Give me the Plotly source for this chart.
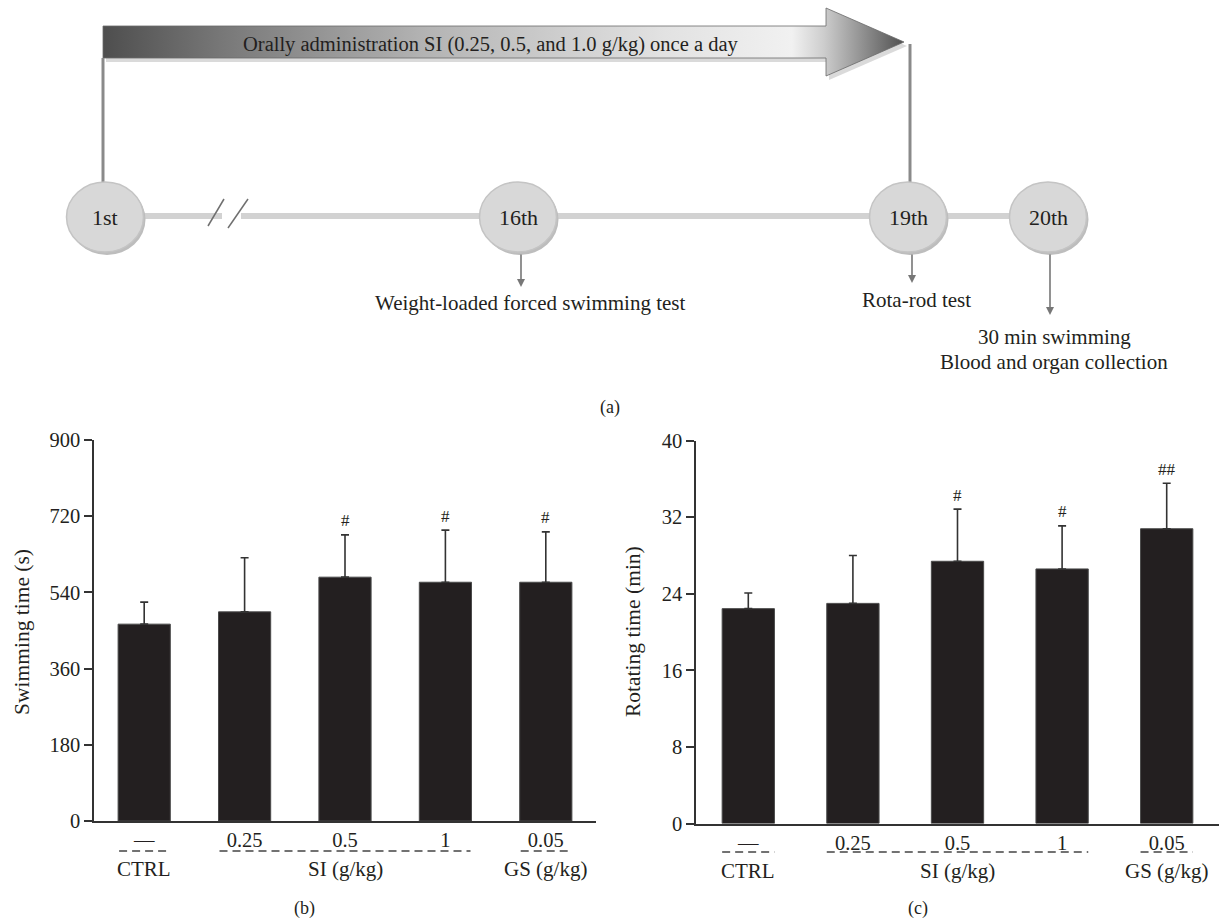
import numpy as np
import plotly.graph_objects as go

# ---------------- data ----------------
dose_labels = ["\u2014", "0.25", "0.5", "1", "0.05"]
group_names = ["CTRL", "SI (g/kg)", "GS (g/kg)"]
group_first = [0, 1, 4]
group_last = [0, 3, 4]

swim_mean = [465, 494, 576, 564, 564]
swim_err = [52, 128, 100, 123, 119]
swim_sig = ["", "", "#", "#", "#"]
swim_ticks = [0, 180, 360, 540, 720, 900]

rot_mean = [22.45, 23.0, 27.4, 26.6, 30.8]
rot_err = [1.64, 5.0, 5.45, 4.5, 4.75]
rot_sig = ["", "", "#", "#", "##"]
rot_ticks = [0, 8, 16, 24, 32, 40]

timeline_days = ["1st", "16th", "19th", "20th"]
treatment_text = "Orally administration SI (0.25, 0.5, and 1.0 g/kg) once a day"
day_notes = {"16th": ["Weight-loaded forced swimming test"],
             "19th": ["Rota-rod test"],
             "20th": ["30 min swimming", "Blood and organ collection"]}

# ---------------- layout constants ----------------
W, H = 1221, 923
FONT = "Liberation Serif"
INK = "#231f20"
BAR = "#231f20"

def px_x(p):
    return p / W

def px_y(p):
    return 1 - p / H

fig = go.Figure()

xs = list(range(len(dose_labels)))

# chart (b)
fig.add_trace(go.Bar(
    x=xs, y=swim_mean, width=0.52, marker=dict(color=BAR, line=dict(color="#4a4a4a", width=1)),
    error_y=dict(type="data", array=swim_err, arrayminus=[0] * 5, symmetric=False,
                 color="#333333", thickness=1.6, width=4),
    xaxis="x", yaxis="y", showlegend=False, hoverinfo="skip"))

# chart (c)
fig.add_trace(go.Bar(
    x=xs, y=rot_mean, width=0.5, marker=dict(color=BAR, line=dict(color="#4a4a4a", width=1)),
    error_y=dict(type="data", array=rot_err, arrayminus=[0] * 5, symmetric=False,
                 color="#333333", thickness=1.6, width=4),
    xaxis="x2", yaxis="y2", showlegend=False, hoverinfo="skip"))

# ---------------- timeline diagram (pixel axes x3/y3) ----------------
arrow_x = [103, 826, 826, 904, 826, 826, 103, 103]
arrow_y = [26, 26, 8, 42, 76, 58, 58, 26]
# shadow
fig.add_trace(go.Scatter(
    x=[a + 3 for a in arrow_x], y=[b + 4 for b in arrow_y], fill="toself",
    fillcolor="rgba(150,150,150,0.35)", line=dict(width=0), mode="lines",
    xaxis="x3", yaxis="y3", showlegend=False, hoverinfo="skip"))
fig.add_trace(go.Scatter(
    x=arrow_x, y=arrow_y, fill="toself", mode="lines",
    line=dict(width=0.8, color="#6a6a6a"),
    fillgradient=dict(type="horizontal", colorscale=[
        [0.0, "#4e4e4e"], [0.15, "#787878"], [0.4, "#b3b3b3"], [0.7, "#e2e2e2"],
        [0.86, "#f1f1f1"], [0.9, "#cdcdcd"], [1.0, "#505050"]]),
    xaxis="x3", yaxis="y3", showlegend=False, hoverinfo="skip"))

shapes = []
annotations = []

day_cx = {"1st": 105, "16th": 518, "19th": 908, "20th": 1048}
CY = 217
RX, RY = 38.5, 35

# timeline bar
shapes.append(dict(type="line", xref="x3", yref="y3", x0=day_cx["1st"], x1=day_cx["20th"],
                   y0=CY - 1, y1=CY - 1, line=dict(color="#d2d2d2", width=6), layer="above"))
# break gap
shapes.append(dict(type="rect", xref="x3", yref="y3", x0=222, x1=241, y0=CY - 6, y1=CY + 5,
                   fillcolor="white", line=dict(width=0)))
shapes.append(dict(type="line", xref="x3", yref="y3", x0=208, y0=226, x1=224, y1=199,
                   line=dict(color="#6f6f6f", width=1.5)))
shapes.append(dict(type="line", xref="x3", yref="y3", x0=228, y0=228, x1=248, y1=199,
                   line=dict(color="#6f6f6f", width=1.5)))

# vertical connectors from the treatment arrow
shapes.append(dict(type="line", xref="x3", yref="y3", x0=103, x1=103, y0=58, y1=184,
                   line=dict(color="#8a8a8a", width=3)))
shapes.append(dict(type="line", xref="x3", yref="y3", x0=910, x1=910, y0=44, y1=184,
                   line=dict(color="#8a8a8a", width=3)))

for d in timeline_days:
    cx = day_cx[d]
    shapes.append(dict(type="circle", xref="x3", yref="y3", x0=cx - RX + 2, x1=cx + RX + 2,
                       y0=CY - RY + 2, y1=CY + RY + 3, fillcolor="#bdbdbd", line=dict(width=0)))
    shapes.append(dict(type="circle", xref="x3", yref="y3", x0=cx - RX, x1=cx + RX,
                       y0=CY - RY, y1=CY + RY, fillcolor="#d8d8d8",
                       line=dict(color="#c4c4c4", width=1.5)))
    annotations.append(dict(xref="x3", yref="y3", x=cx, y=CY, text=d, showarrow=False,
                            xanchor="center", yanchor="middle",
                            font=dict(family=FONT, size=22, color=INK)))

arrow_spec = {"16th": (521, 287, [303]), "19th": (912, 283, [300]),
              "20th": (1050, 315, [337, 362])}
note_x = {"16th": 530, "19th": 916, "20th": 1054}
for d, (ax_, tip, ys) in arrow_spec.items():
    annotations.append(dict(xref="x3", yref="y3", axref="x3", ayref="y3", x=ax_, y=tip,
                            ax=ax_, ay=253, text="", showarrow=True, arrowhead=2,
                            arrowsize=1, arrowwidth=1.6, arrowcolor="#777777"))
    for line_txt, yy in zip(day_notes[d], ys):
        annotations.append(dict(xref="x3", yref="y3", x=note_x[d], y=yy, text=line_txt,
                                showarrow=False, xanchor="center", yanchor="middle",
                                font=dict(family=FONT, size=21, color=INK)))

annotations.append(dict(xref="x3", yref="y3", x=490, y=44, text=treatment_text, showarrow=False,
                        xanchor="center", yanchor="middle",
                        font=dict(family=FONT, size=20.5, color=INK)))

# panel letters
for txt, x, y in [("(a)", 610, 407), ("(b)", 304, 908), ("(c)", 918, 908)]:
    annotations.append(dict(xref="x3", yref="y3", x=x, y=y, text=txt, showarrow=False,
                            xanchor="center", yanchor="middle",
                            font=dict(family=FONT, size=18, color=INK)))

# y-axis titles
annotations.append(dict(xref="paper", yref="paper", x=px_x(22), y=px_y(632), text="Swimming time (s)",
                        textangle=-90, showarrow=False, xanchor="center", yanchor="middle",
                        font=dict(family=FONT, size=21.5, color=INK)))
annotations.append(dict(xref="paper", yref="paper", x=px_x(633), y=px_y(632), text="Rotating time (min)",
                        textangle=-90, showarrow=False, xanchor="center", yanchor="middle",
                        font=dict(family=FONT, size=21.5, color=INK)))

# significance marks
for xr, yr, means, errs, sig in [("x", "y", swim_mean, swim_err, swim_sig),
                                 ("x2", "y2", rot_mean, rot_err, rot_sig)]:
    for i, s in enumerate(sig):
        if s:
            annotations.append(dict(xref=xr, yref=yr, x=i, y=means[i] + errs[i], text=s,
                                    showarrow=False, yshift=14, xanchor="center", yanchor="middle",
                                    font=dict(family=FONT, size=17, color=INK)))

# group dashed lines and labels
for xr, dash_y, lab_y in [("x", 851, 869), ("x2", 852, 871)]:
    for name, a, b in zip(group_names, group_first, group_last):
        shapes.append(dict(type="line", xref=xr, yref="paper", x0=a - 0.25, x1=b + 0.25,
                           y0=px_y(dash_y), y1=px_y(dash_y),
                           line=dict(color="#444444", width=1.5, dash="8px,5px")))
        annotations.append(dict(xref=xr, yref="paper", x=(a + b) / 2, y=px_y(lab_y), text=name,
                                showarrow=False, xanchor="center", yanchor="middle",
                                font=dict(family=FONT, size=21, color=INK)))

axis_common = dict(showgrid=False, zeroline=False, showline=True, linecolor="#333333",
                   linewidth=1.5, automargin=False, tickfont=dict(family=FONT, size=20.5, color=INK))

fig.update_layout(
    width=W, height=H, autosize=False, margin=dict(l=0, r=0, t=0, b=0, pad=0, autoexpand=False),
    paper_bgcolor="white", plot_bgcolor="rgba(0,0,0,0)",
    xaxis=dict(domain=[px_x(94), px_x(596)], range=[-0.5, 4.5], tickvals=xs, ticktext=dose_labels,
               ticks="", anchor="y", **axis_common),
    yaxis=dict(domain=[px_y(821), px_y(440)], range=[0, 900], tickvals=swim_ticks, ticks="outside",
               ticklen=8, tickwidth=1.5, tickcolor="#333333", anchor="x", **axis_common),
    xaxis2=dict(domain=[px_x(696), px_x(1219)], range=[-0.5, 4.5], tickvals=xs, ticktext=dose_labels,
                ticks="", anchor="y2", **axis_common),
    yaxis2=dict(domain=[px_y(823.5), px_y(440.7)], range=[0, 40], tickvals=rot_ticks, ticks="outside",
                ticklen=8, tickwidth=1.5, tickcolor="#333333", anchor="x2", **axis_common),
    xaxis3=dict(domain=[0, 1], range=[0, W], visible=False, anchor="y3", fixedrange=True),
    yaxis3=dict(domain=[0, 1], range=[H, 0], visible=False, anchor="x3", fixedrange=True),
    shapes=shapes, annotations=annotations, bargap=0.4,
)

fig.write_html("out.html", config={"displayModeBar": False, "responsive": False},
               default_width="1221px", default_height="923px",
               post_script="document.documentElement.style.margin='0';document.body.style.margin='0';"
                           "document.body.style.overflow='hidden';")
